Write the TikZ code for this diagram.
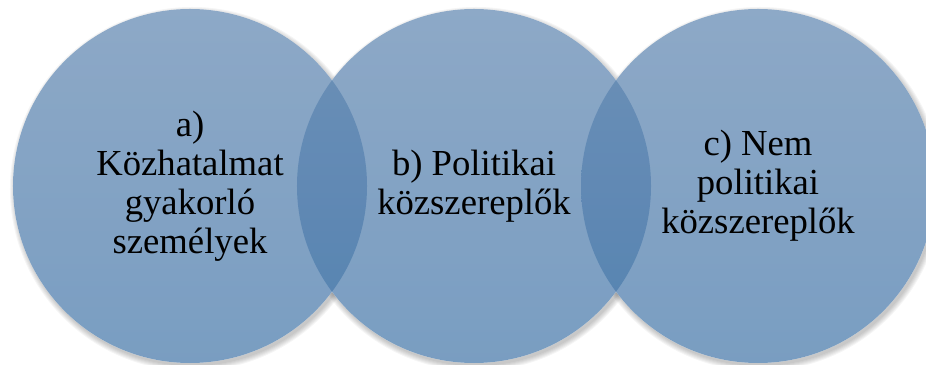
\documentclass[tikz,border=0pt]{standalone}
\usepackage{fontspec}
\setmainfont{Liberation Serif}
\definecolor{vennTop}{RGB}{98,136,178}
\definecolor{vennBottom}{RGB}{70,120,170}
\begin{document}
\begin{tikzpicture}[x=0.03cm, y=0.03cm,
    every node/.style={font=\rmfamily\fontsize{31.3}{33.2}\selectfont},
    venn/.style={circle, minimum size=10.62cm, inner sep=0pt, align=center,
        top color=vennTop, bottom color=vennBottom, fill opacity=0.72, text opacity=1}]
    \useasboundingbox (0,0) rectangle (926,365);
    \clip (0,0) rectangle (926,365);

    % Kozeppontok
    \coordinate (cA) at (190,179);
    \coordinate (cB) at (474,179);
    \coordinate (cC) at (758,179);

    % Arnyek
    \foreach \c in {cA,cB,cC}
        \foreach \k in {0,...,5}
            \fill[black, opacity=0.04] ([shift={(2,-3)}]\c) circle ({5.31cm+\k*0.03cm});
    \fill[white] (cA) circle (5.31cm) (cB) circle (5.31cm) (cC) circle (5.31cm);

    % Korok
    \node[venn] (circA) at (cA) {a)\\Közhatalmat\\gyakorló\\személyek};
    \node[venn] (circB) at (cB) {b) Politikai\\közszereplők};
    \node[venn] (circC) at (cC) {c) Nem\\politikai\\közszereplők};
\end{tikzpicture}
\end{document}
